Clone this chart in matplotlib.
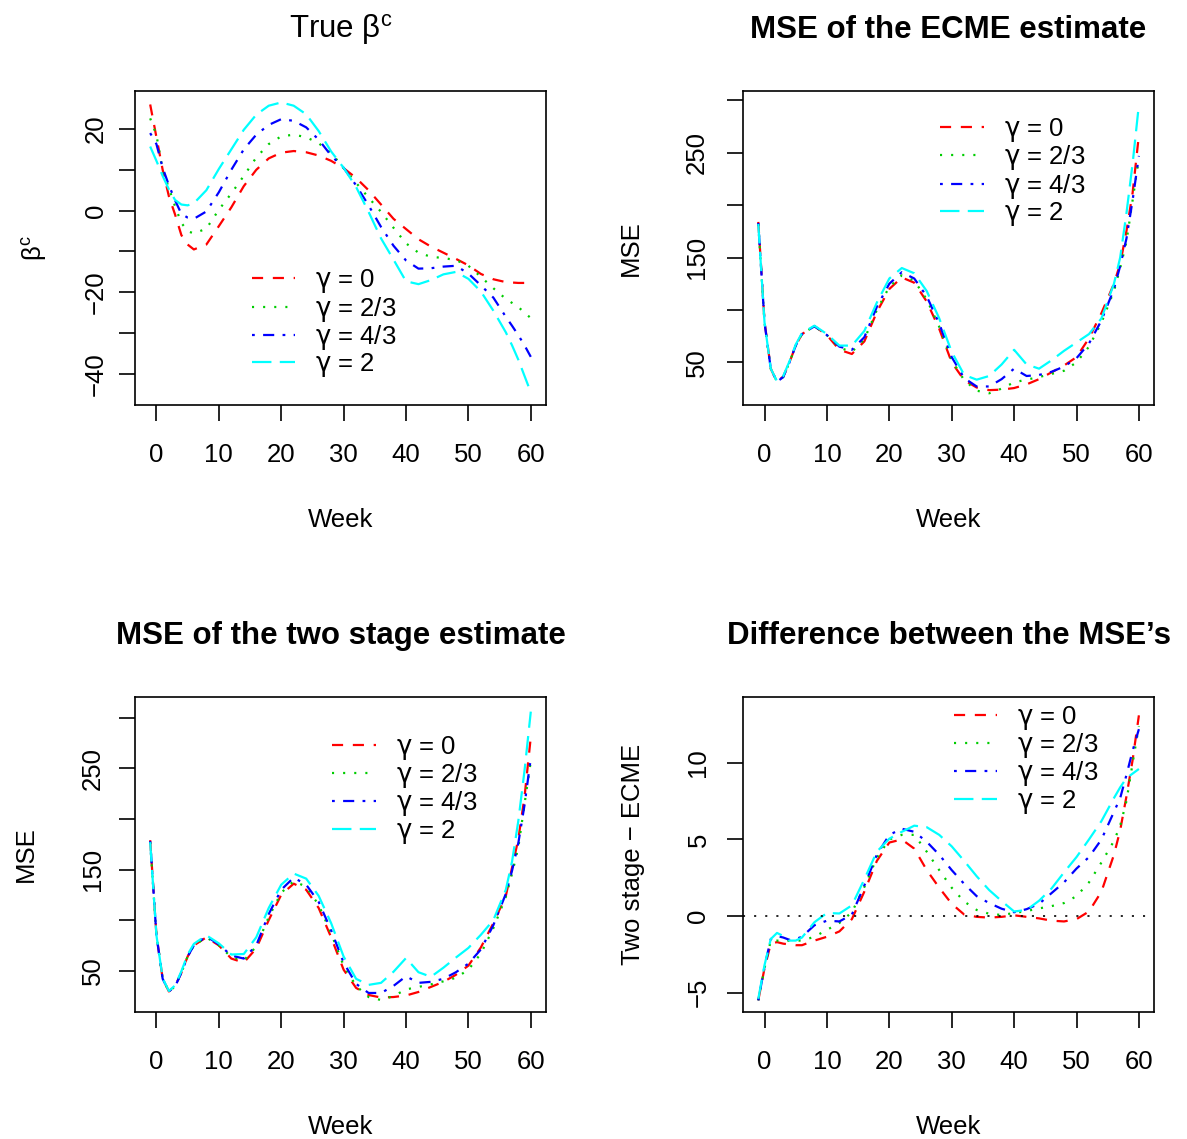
import matplotlib
matplotlib.use('Agg')
import matplotlib.pyplot as plt

plt.rcParams['font.family'] = ['Liberation Sans', 'DejaVu Sans']
plt.rcParams['mathtext.fontset'] = 'custom'
plt.rcParams['mathtext.rm'] = 'Liberation Sans'
plt.rcParams['mathtext.it'] = 'DejaVu Sans'
plt.rcParams['mathtext.bf'] = 'Liberation Sans:bold'
plt.rcParams['lines.scale_dashes'] = False

weeks = [-1, 0, 1, 2, 3, 4, 5, 6, 8, 10, 12, 14, 16, 18, 20, 22, 24, 26, 28, 30,
         32, 34, 36, 38, 40, 42, 44, 46, 48, 50, 52, 54, 56, 57, 58, 59, 60]

# True beta^c
beta_g0 = [26.0, 18.0, 10.0, 3.5, -1.0, -6.0, -8.3, -9.5, -8.3, -3.8, 0.8, 6.0, 10.0, 12.8, 14.2, 14.6, 14.3, 13.5, 12.2, 10.4,
           8.0, 5.0, 1.5, -2.0, -4.5, -7.0, -8.8, -10.3, -11.8, -13.4, -15.5, -16.8, -17.5, -17.6, -17.7, -17.7, -17.6]
beta_g23 = [22.6, 18.5, 10.0, 5.5, 1.0, -3.0, -5.0, -5.6, -4.4, 0.2, 4.2, 8.5, 13.0, 16.3, 18.2, 18.6, 18.0, 16.5, 14.2, 10.4,
            6.8, 3.2, -0.3, -4.2, -8.0, -10.3, -11.3, -11.6, -12.1, -13.5, -16.2, -19.0, -21.6, -22.6, -23.6, -25.0, -26.3]
beta_g43 = [19.0, 16.3, 10.5, 6.2, 2.5, -0.8, -1.7, -2.0, -0.2, 4.5, 10.0, 15.0, 18.6, 21.0, 22.4, 22.0, 20.4, 17.4, 13.5, 10.5,
            6.2, 1.3, -4.0, -8.6, -12.2, -14.2, -14.1, -13.7, -13.5, -15.4, -18.3, -21.3, -26.0, -28.2, -30.5, -33.0, -35.8]
beta_g2 = [15.7, 12.2, 8.5, 5.2, 2.6, 1.5, 1.3, 1.8, 5.0, 10.2, 15.0, 19.8, 23.5, 25.7, 26.5, 25.7, 23.6, 19.5, 14.5, 10.5,
           5.8, -0.3, -6.8, -12.0, -17.3, -18.0, -17.0, -15.6, -15.0, -16.7, -19.8, -24.5, -29.8, -33.0, -36.5, -40.5, -44.5]

# MSE of the ECME estimate
ecme_g0 = [184, 89, 44, 31.5, 36.5, 50, 66, 77, 84.5, 76, 62, 58, 70, 98, 120, 131, 126, 108, 82, 50,
           33, 26, 23.5, 24, 25.5, 29, 34, 40.5, 47, 55, 73, 97, 125, 144, 175, 212, 267]
ecme_g23 = [182, 88, 44, 31.5, 36, 50, 66, 77, 84.5, 76, 64, 60, 72, 100, 122, 133, 128, 110, 84, 52,
            33, 23, 20.5, 25, 31, 33.5, 36, 39, 42, 50, 65, 88, 118, 140, 165, 205, 245]
ecme_g43 = [183, 88, 44, 31.5, 36, 50, 66, 77, 84.5, 76, 65, 62, 74, 103, 125, 136, 130, 113, 87, 55,
            35, 27, 27, 34, 44, 37, 38, 41, 46, 54, 68, 90, 120, 142, 168, 205, 247]
ecme_g2 = [182, 88, 44, 32, 37, 51, 67, 78, 85, 77, 66, 66, 80, 107, 130, 140, 135, 118, 92, 60,
           38, 33.5, 37, 48, 62, 48, 44, 52, 61, 69, 77, 92, 125, 150, 192, 240, 296]

# MSE of the two stage estimate
two_g0 = [179, 85.5, 42, 29.5, 35, 48, 64, 75, 83, 75, 62, 58, 72, 100, 125, 136, 130, 112, 83, 51,
          33, 26, 23.5, 24, 25.5, 29, 34, 39, 46, 55, 73, 97, 124, 152, 180, 222, 281]
two_g23 = [177, 85, 42, 29.5, 34.5, 48, 64, 75, 83, 75, 63.5, 60, 74, 103, 127, 138.5, 133, 115, 87, 55,
           35, 24, 21, 25, 31.5, 34, 36.5, 39.5, 43, 51, 67, 92, 123, 146, 172, 215, 257]
two_g43 = [178, 85, 42, 29.5, 34.5, 48, 64, 75, 84, 76, 65, 62, 75, 106, 130, 142, 135, 118, 90, 58,
           37, 28, 28, 35, 44.5, 38, 39, 42, 48.5, 57, 71, 95, 126, 149, 176, 214, 260]
two_g2 = [177, 85, 42.5, 30, 35.5, 49.5, 66, 76.5, 85, 77, 66, 66.5, 83, 112, 135, 146, 141, 124, 97, 64,
          42, 36, 38, 49, 62.5, 48.5, 44, 53, 63, 72.5, 85.5, 100, 130, 158, 198, 248, 306]

# Two stage - ECME
diff_g0 = [-5.5, -3.4, -1.8, -1.7, -1.8, -1.85, -1.9, -1.9, -1.6, -1.35, -1.0, -0.2, 1.6, 3.6, 4.8, 5.0, 4.4, 3.0, 1.85, 0.8,
           0.1, -0.05, -0.1, -0.05, 0.05, -0.05, -0.15, -0.3, -0.35, -0.2, 0.3, 1.6, 4.0, 5.6, 7.8, 10.2, 13.1]
diff_g23 = [-5.5, -3.4, -1.6, -1.6, -1.65, -1.6, -1.6, -1.6, -1.35, -0.9, -0.45, 0.25, 1.9, 3.8, 5.0, 5.3, 5.3, 4.2, 3.0, 1.85,
            0.95, 0.4, 0.15, 0.07, 0.2, 0.33, 0.5, 0.65, 0.85, 1.3, 2.2, 3.5, 4.9, 5.9, 7.5, 10.0, 12.4]
diff_g43 = [-5.5, -3.3, -1.5, -1.3, -1.4, -1.55, -1.5, -1.35, -0.6, -0.3, -0.35, 0.1, 2.0, 4.0, 5.3, 5.7, 5.5, 4.85, 4.0, 3.0,
            2.1, 1.3, 0.85, 0.48, 0.25, 0.45, 0.8, 1.5, 2.2, 3.1, 3.85, 5.0, 6.8, 7.7, 9.2, 10.8, 12.2]
diff_g2 = [-5.4, -3.2, -1.5, -1.1, -1.3, -1.6, -1.6, -1.4, -0.4, 0.2, 0.17, 0.7, 2.4, 4.2, 5.05, 5.5, 5.9, 5.8, 5.3, 4.55,
           3.6, 2.6, 1.7, 0.98, 0.3, 0.4, 1.0, 1.8, 2.85, 3.85, 5.0, 6.2, 7.7, 8.4, 9.0, 9.3, 9.6]

labels = [r'$\gamma$ = 0', r'$\gamma$ = 2/3', r'$\gamma$ = 4/3', r'$\gamma$ = 2']
colors = ['#FF0000', '#00CD00', '#0000FF', '#00FFFF']
dashes = [(8, 7), (1.5, 6.5), (2, 6, 8, 6), (14, 6)]

FS = 18.5
fig = plt.figure(figsize=(11.87, 11.39), dpi=100)


def panel(rect, series, title, ylabel, ylim, yticks, yticklabels, leg_xy, bold=True, ypad=8, ylpad=30):
    ax = fig.add_axes(rect)
    for vals, col, ds, lab in zip(series, colors, dashes, labels):
        ax.plot(weeks, vals, color=col, lw=1.6, dashes=ds, label=lab)
    ax.set_xlim(-3.44, 62.44)
    ax.set_ylim(*ylim)
    ax.set_xticks(range(0, 61, 10))
    ax.set_yticks(yticks, yticklabels, rotation=90, va='center')
    ax.tick_params(direction='out', length=11.5, width=1.2, labelsize=FS)
    ax.tick_params(axis='x', pad=15.5)
    ax.tick_params(axis='y', pad=ypad)
    for s in ax.spines.values():
        s.set_linewidth(1.2)
    ax.set_title(title, fontsize=22.5, fontweight='bold' if bold else 'normal', pad=38)
    ax.set_xlabel('Week', fontsize=FS, labelpad=30)
    ax.set_ylabel(ylabel, fontsize=FS, labelpad=ylpad)
    ax.legend(loc='upper left', bbox_to_anchor=leg_xy, frameon=False, fontsize=FS,
              handlelength=1.7, handletextpad=0.78, labelspacing=-0.03,
              borderpad=0, borderaxespad=0)
    return ax


mse_ticks = [50, 100, 150, 200, 250, 300]
mse_labels = ['50', '', '150', '', '250', '']

panel([0.1137, 0.6444, 0.3463, 0.2757], [beta_g0, beta_g23, beta_g43, beta_g2],
      r'True $\mathregular{\beta^c}$', r'$\mathregular{\beta^c}$', (-47.6, 29.3),
      [-40, -30, -20, -10, 0, 10, 20], ['\u221240', '', '\u221220', '', '0', '', '20'],
      (0.284, 0.438), bold=False, ypad=8, ylpad=25)

panel([0.626, 0.6444, 0.3463, 0.2757], [ecme_g0, ecme_g23, ecme_g43, ecme_g2],
      'MSE of the ECME estimate', 'MSE', (9.3, 308.9), mse_ticks, mse_labels,
      (0.479, 0.920), ypad=13, ylpad=30)

panel([0.1137, 0.1115, 0.3463, 0.2766], [two_g0, two_g23, two_g43, two_g2],
      'MSE of the two stage estimate', 'MSE', (9.2, 320.5), mse_ticks, mse_labels,
      (0.479, 0.883), ypad=10, ylpad=31)

ax4 = panel([0.626, 0.1115, 0.3463, 0.2766], [diff_g0, diff_g23, diff_g43, diff_g2],
            'Difference between the MSE\u2019s', 'Two stage \u2212 ECME', (-6.26, 14.3),
            [-5, 0, 5, 10], ['\u22125', '0', '5', '10'],
            (0.512, 0.978), ypad=12, ylpad=30)
ax4.axhline(0, color='black', lw=1.2, dashes=(1.5, 6.5))

fig.savefig('out.png', dpi=100)
